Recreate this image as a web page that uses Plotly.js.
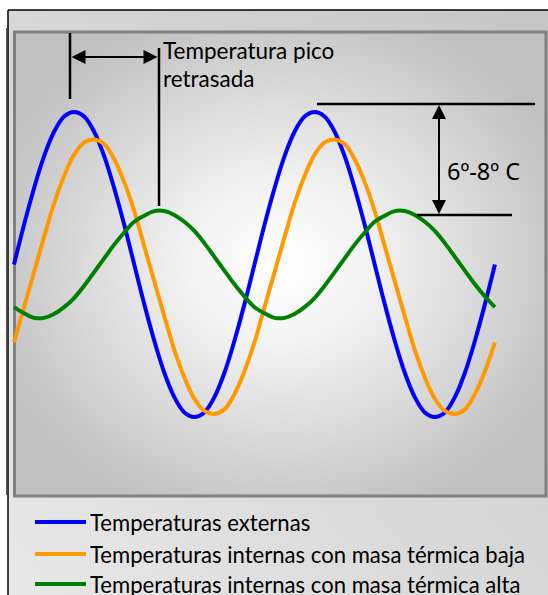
<!DOCTYPE html>
<html><head><meta charset="utf-8">
<script src="https://cdn.plot.ly/plotly-3.0.1.min.js"></script>
<style>html,body{margin:0;padding:0;background:#fff;overflow:hidden}#chart{width:548px;height:595px}</style>
</head><body><div id="chart"></div>
<script>
// Phase of the daily cycle (degrees), two full cycles
const phase = [0,15,30,45,60,75,90,105,120,135,150,165,180,195,210,225,240,255,270,285,300,315,330,345,
               360,375,390,405,420,435,450,465,480,495,510,525,540,555,570,585,600,615,630,645,660,675,690,705,720];
// Temperatures (relative units)
const externas = [0,2.6,5,7.1,8.7,9.7,10,9.7,8.7,7.1,5,2.6,0,-2.6,-5,-7.1,-8.7,-9.7,-10,-9.7,-8.7,-7.1,-5,-2.6,
                  0,2.6,5,7.1,8.7,9.7,10,9.7,8.7,7.1,5,2.6,0,-2.6,-5,-7.1,-8.7,-9.7,-10,-9.7,-8.7,-7.1,-5,-2.6,0];
const masaBaja = [-5.1,-2.8,-0.5,1.8,4.0,5.8,7.2,8.0,8.2,7.9,6.9,5.4,3.5,1.2,-1.1,-3.4,-5.6,-7.4,-8.8,-9.6,-9.8,-9.5,-8.5,-7.0,
                  -5.1,-2.8,-0.5,1.8,4.0,5.8,7.2,8.0,8.2,7.9,6.9,5.4,3.5,1.2,-1.1,-3.4,-5.6,-7.4,-8.8,-9.6,-9.8,-9.5,-8.5,-7.0,-5.1];
const masaAlta = [-2.8,-3.2,-3.5,-3.5,-3.25,-2.8,-2.2,-1.4,-0.5,0.4,1.3,2.1,2.8,3.2,3.5,3.5,3.25,2.8,2.2,1.4,0.5,-0.4,-1.3,-2.1,
                  -2.8,-3.2,-3.5,-3.5,-3.25,-2.8,-2.2,-1.4,-0.5,0.4,1.3,2.1,2.8,3.2,3.5,3.5,3.25,2.8,2.2,1.4,0.5,-0.4,-1.3,-2.1,-2.8];
const seriesNames = ['Temperaturas externas','Temperaturas internas con masa térmica baja','Temperaturas internas con masa térmica alta'];
const labelPico = ['Temperatura pico','retrasada'];
const labelRango = '6º-8º C';

const colors = ['#0000ff','#ff9900','#008000'];
const W = 548, H = 595;
const FONT = 'Lato, "Open Sans", sans-serif';
const X = px => px / W;
const Y = py => 1 - py / H;

const seriesY = [externas, masaBaja, masaAlta];
const traces = seriesY.map((ys, i) => ({
  type: 'scatter', mode: 'lines', x: phase, y: ys, name: seriesNames[i],
  line: {color: colors[i], width: 4, shape: 'spline', smoothing: 1},
  showlegend: false, hoverinfo: 'skip', cliponaxis: false
}));

function line(x0, y0, x1, y1, w, c, layer) {
  return {type: 'line', xref: 'paper', yref: 'paper', x0: X(x0), y0: Y(y0), x1: X(x1), y1: Y(y1),
          line: {color: c || '#000', width: w || 2.5}, layer: layer || 'above'};
}
function tri(tx, ty, dir, len, half) {
  let p;
  if (dir === 'left')  p = [[tx,ty],[tx+len,ty-half],[tx+len,ty+half]];
  if (dir === 'right') p = [[tx,ty],[tx-len,ty-half],[tx-len,ty+half]];
  if (dir === 'up')    p = [[tx,ty],[tx-half,ty+len],[tx+half,ty+len]];
  if (dir === 'down')  p = [[tx,ty],[tx-half,ty-len],[tx+half,ty-len]];
  const path = 'M' + p.map(q => X(q[0]) + ',' + Y(q[1])).join('L') + 'Z';
  return {type: 'path', xref: 'paper', yref: 'paper', path, fillcolor: '#000', line: {width: 0}, layer: 'above'};
}

const shapes = [
  line(8, 10, 548, 10, 1.5, '#000', 'below'),
  line(8, 10, 8, 595, 1.5, '#000', 'below'),
  line(6.5, 28, 6.5, 495, 1, '#555', 'below'),
  {type: 'rect', xref: 'paper', yref: 'paper', x0: X(14.5), y0: Y(32), x1: X(546), y1: Y(496),
   line: {color: '#808080', width: 3}, layer: 'below'},
  line(70, 33, 70, 99),
  line(159, 48, 159, 206),
  line(84, 57, 146, 57, 2),
  tri(71.5, 57, 'left', 14, 7),
  tri(157.5, 57, 'right', 14, 7),
  line(317, 104, 535, 104),
  line(417, 215, 512, 215),
  line(439, 117, 439, 202, 2),
  tri(439, 105, 'up', 14, 7),
  tri(439, 214, 'down', 14, 7)
];
const legendY = [522, 554, 584];
legendY.forEach((ly, i) => shapes.push(line(35, ly, 86, ly, 4, colors[i])));

const txt = (x, y, t, size, fam) => ({xref: 'paper', yref: 'paper', x: X(x), y: Y(y), text: t, showarrow: false,
  xanchor: 'left', yanchor: 'middle', align: 'left', font: {family: fam || FONT, size: size, color: '#000'}});
const annotations = [
  txt(161, 50, labelPico[0], 22.5),
  txt(161, 79, labelPico[1], 22.5),
  txt(445, 171, labelRango, 23.5, '"Noto Sans", Lato, sans-serif')
];
legendY.forEach((ly, i) => annotations.push(txt(88, ly, seriesNames[i], 22.1)));

const bgSvg = "<svg xmlns='http://www.w3.org/2000/svg' width='548' height='595' viewBox='0 0 548 595'>" +
  "<defs><linearGradient id='o' x1='0' y1='1' x2='1' y2='0'>" +
  "<stop offset='0' stop-color='#e8e8e8'/><stop offset='1' stop-color='#c6c6c6'/></linearGradient>" +
  "<radialGradient id='i' cx='0.5' cy='0.5' r='0.58'>" +
  "<stop offset='0' stop-color='#ffffff'/><stop offset='0.3' stop-color='#f2f2f2'/><stop offset='1' stop-color='#c0c0c0'/></radialGradient></defs>" +
  "<rect x='8' y='10' width='540' height='585' fill='url(#o)'/>" +
  "<rect x='14.5' y='32' width='531.5' height='464' fill='url(#i)'/></svg>";

const layout = {
  width: W, height: H, margin: {l: 0, r: 0, t: 0, b: 0, pad: 0},
  paper_bgcolor: 'rgba(0,0,0,0)', plot_bgcolor: 'rgba(0,0,0,0)',
  xaxis: {range: [-20.96, 799.4], visible: false, fixedrange: true},
  yaxis: {range: [-21.67, 17.34], visible: false, fixedrange: true},
  showlegend: false,
  images: [{source: 'data:image/svg+xml;charset=utf-8,' + encodeURIComponent(bgSvg),
    xref: 'paper', yref: 'paper', x: 0, y: 1, sizex: 1, sizey: 1, xanchor: 'left', yanchor: 'top',
    sizing: 'stretch', layer: 'below'}],
  shapes, annotations
};
Plotly.newPlot('chart', traces, layout, {staticPlot: true, displayModeBar: false});
</script></body></html>
